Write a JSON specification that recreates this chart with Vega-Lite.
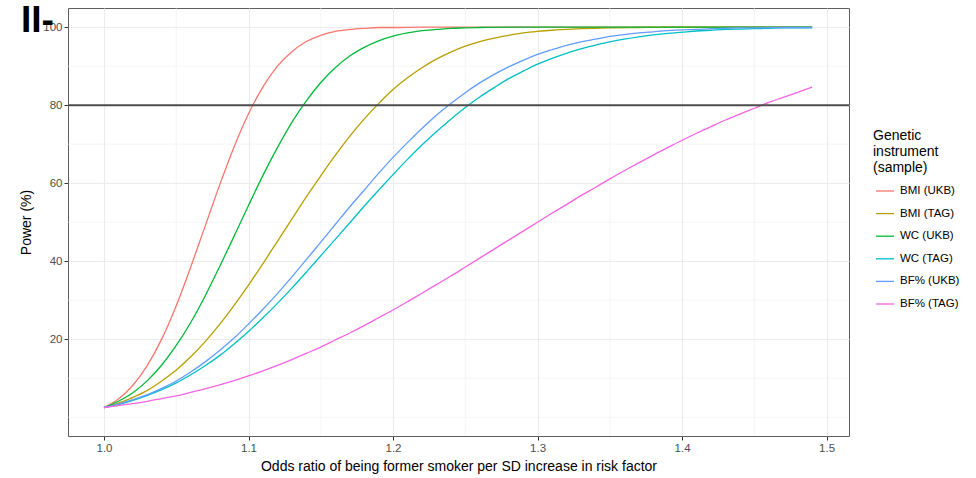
{
  "$schema": "https://vega.github.io/schema/vega-lite/v6.json",
  "width": 781,
  "height": 428,
  "autosize": {"type": "none"},
  "padding": {"left": 68, "top": 8, "right": 127, "bottom": 42},
  "background": "white",
  "title": {
    "text": "II-",
    "anchor": "start",
    "frame": "group",
    "orient": "top",
    "font": "Liberation Sans",
    "fontSize": 37,
    "fontWeight": "bold",
    "color": "black",
    "baseline": "top",
    "offset": 0,
    "dx": -47,
    "dy": 32
  },
  "datasets": {
    "power": [
      {"or": 1.00, "instrument": "BMI (UKB)", "power": 2.5},
      {"or": 1.01, "instrument": "BMI (UKB)", "power": 4.7},
      {"or": 1.02, "instrument": "BMI (UKB)", "power": 8.2},
      {"or": 1.03, "instrument": "BMI (UKB)", "power": 13.3},
      {"or": 1.04, "instrument": "BMI (UKB)", "power": 20.1},
      {"or": 1.05, "instrument": "BMI (UKB)", "power": 28.6},
      {"or": 1.06, "instrument": "BMI (UKB)", "power": 38.5},
      {"or": 1.07, "instrument": "BMI (UKB)", "power": 49.0},
      {"or": 1.08, "instrument": "BMI (UKB)", "power": 59.5},
      {"or": 1.09, "instrument": "BMI (UKB)", "power": 69.3},
      {"or": 1.10, "instrument": "BMI (UKB)", "power": 77.8},
      {"or": 1.11, "instrument": "BMI (UKB)", "power": 84.7},
      {"or": 1.12, "instrument": "BMI (UKB)", "power": 90.0},
      {"or": 1.13, "instrument": "BMI (UKB)", "power": 93.7},
      {"or": 1.14, "instrument": "BMI (UKB)", "power": 96.3},
      {"or": 1.15, "instrument": "BMI (UKB)", "power": 97.9},
      {"or": 1.16, "instrument": "BMI (UKB)", "power": 98.9},
      {"or": 1.17, "instrument": "BMI (UKB)", "power": 99.4},
      {"or": 1.18, "instrument": "BMI (UKB)", "power": 99.7},
      {"or": 1.19, "instrument": "BMI (UKB)", "power": 99.9},
      {"or": 1.20, "instrument": "BMI (UKB)", "power": 99.9},
      {"or": 1.22, "instrument": "BMI (UKB)", "power": 100},
      {"or": 1.25, "instrument": "BMI (UKB)", "power": 100},
      {"or": 1.30, "instrument": "BMI (UKB)", "power": 100},
      {"or": 1.35, "instrument": "BMI (UKB)", "power": 100},
      {"or": 1.40, "instrument": "BMI (UKB)", "power": 100},
      {"or": 1.45, "instrument": "BMI (UKB)", "power": 100},
      {"or": 1.49, "instrument": "BMI (UKB)", "power": 100},

      {"or": 1.00, "instrument": "BMI (TAG)", "power": 2.5},
      {"or": 1.01, "instrument": "BMI (TAG)", "power": 3.6},
      {"or": 1.02, "instrument": "BMI (TAG)", "power": 5.1},
      {"or": 1.03, "instrument": "BMI (TAG)", "power": 6.9},
      {"or": 1.04, "instrument": "BMI (TAG)", "power": 9.3},
      {"or": 1.05, "instrument": "BMI (TAG)", "power": 12.1},
      {"or": 1.06, "instrument": "BMI (TAG)", "power": 15.5},
      {"or": 1.07, "instrument": "BMI (TAG)", "power": 19.4},
      {"or": 1.08, "instrument": "BMI (TAG)", "power": 23.8},
      {"or": 1.09, "instrument": "BMI (TAG)", "power": 28.7},
      {"or": 1.10, "instrument": "BMI (TAG)", "power": 33.9},
      {"or": 1.11, "instrument": "BMI (TAG)", "power": 39.4},
      {"or": 1.12, "instrument": "BMI (TAG)", "power": 45.1},
      {"or": 1.13, "instrument": "BMI (TAG)", "power": 50.8},
      {"or": 1.14, "instrument": "BMI (TAG)", "power": 56.5},
      {"or": 1.15, "instrument": "BMI (TAG)", "power": 61.9},
      {"or": 1.16, "instrument": "BMI (TAG)", "power": 67.1},
      {"or": 1.17, "instrument": "BMI (TAG)", "power": 72.0},
      {"or": 1.18, "instrument": "BMI (TAG)", "power": 76.4},
      {"or": 1.19, "instrument": "BMI (TAG)", "power": 80.4},
      {"or": 1.20, "instrument": "BMI (TAG)", "power": 84.0},
      {"or": 1.21, "instrument": "BMI (TAG)", "power": 87.0},
      {"or": 1.22, "instrument": "BMI (TAG)", "power": 89.6},
      {"or": 1.23, "instrument": "BMI (TAG)", "power": 91.8},
      {"or": 1.24, "instrument": "BMI (TAG)", "power": 93.6},
      {"or": 1.25, "instrument": "BMI (TAG)", "power": 95.1},
      {"or": 1.26, "instrument": "BMI (TAG)", "power": 96.3},
      {"or": 1.27, "instrument": "BMI (TAG)", "power": 97.2},
      {"or": 1.28, "instrument": "BMI (TAG)", "power": 97.9},
      {"or": 1.29, "instrument": "BMI (TAG)", "power": 98.5},
      {"or": 1.30, "instrument": "BMI (TAG)", "power": 98.9},
      {"or": 1.31, "instrument": "BMI (TAG)", "power": 99.2},
      {"or": 1.32, "instrument": "BMI (TAG)", "power": 99.4},
      {"or": 1.33, "instrument": "BMI (TAG)", "power": 99.6},
      {"or": 1.34, "instrument": "BMI (TAG)", "power": 99.7},
      {"or": 1.35, "instrument": "BMI (TAG)", "power": 99.8},
      {"or": 1.37, "instrument": "BMI (TAG)", "power": 99.9},
      {"or": 1.40, "instrument": "BMI (TAG)", "power": 100},
      {"or": 1.45, "instrument": "BMI (TAG)", "power": 100},
      {"or": 1.49, "instrument": "BMI (TAG)", "power": 100},

      {"or": 1.00, "instrument": "WC (UKB)", "power": 2.5},
      {"or": 1.01, "instrument": "WC (UKB)", "power": 4.1},
      {"or": 1.02, "instrument": "WC (UKB)", "power": 6.3},
      {"or": 1.03, "instrument": "WC (UKB)", "power": 9.4},
      {"or": 1.04, "instrument": "WC (UKB)", "power": 13.4},
      {"or": 1.05, "instrument": "WC (UKB)", "power": 18.4},
      {"or": 1.06, "instrument": "WC (UKB)", "power": 24.3},
      {"or": 1.07, "instrument": "WC (UKB)", "power": 31.1},
      {"or": 1.08, "instrument": "WC (UKB)", "power": 38.6},
      {"or": 1.09, "instrument": "WC (UKB)", "power": 46.4},
      {"or": 1.10, "instrument": "WC (UKB)", "power": 54.3},
      {"or": 1.11, "instrument": "WC (UKB)", "power": 62.0},
      {"or": 1.12, "instrument": "WC (UKB)", "power": 69.1},
      {"or": 1.13, "instrument": "WC (UKB)", "power": 75.6},
      {"or": 1.14, "instrument": "WC (UKB)", "power": 81.1},
      {"or": 1.15, "instrument": "WC (UKB)", "power": 85.8},
      {"or": 1.16, "instrument": "WC (UKB)", "power": 89.6},
      {"or": 1.17, "instrument": "WC (UKB)", "power": 92.6},
      {"or": 1.18, "instrument": "WC (UKB)", "power": 94.8},
      {"or": 1.19, "instrument": "WC (UKB)", "power": 96.5},
      {"or": 1.20, "instrument": "WC (UKB)", "power": 97.7},
      {"or": 1.21, "instrument": "WC (UKB)", "power": 98.5},
      {"or": 1.22, "instrument": "WC (UKB)", "power": 99.1},
      {"or": 1.23, "instrument": "WC (UKB)", "power": 99.4},
      {"or": 1.24, "instrument": "WC (UKB)", "power": 99.7},
      {"or": 1.25, "instrument": "WC (UKB)", "power": 99.8},
      {"or": 1.26, "instrument": "WC (UKB)", "power": 99.9},
      {"or": 1.28, "instrument": "WC (UKB)", "power": 100},
      {"or": 1.30, "instrument": "WC (UKB)", "power": 100},
      {"or": 1.35, "instrument": "WC (UKB)", "power": 100},
      {"or": 1.40, "instrument": "WC (UKB)", "power": 100},
      {"or": 1.45, "instrument": "WC (UKB)", "power": 100},
      {"or": 1.49, "instrument": "WC (UKB)", "power": 100},

      {"or": 1.00, "instrument": "WC (TAG)", "power": 2.5},
      {"or": 1.01, "instrument": "WC (TAG)", "power": 3.3},
      {"or": 1.02, "instrument": "WC (TAG)", "power": 4.3},
      {"or": 1.03, "instrument": "WC (TAG)", "power": 5.6},
      {"or": 1.04, "instrument": "WC (TAG)", "power": 7.1},
      {"or": 1.05, "instrument": "WC (TAG)", "power": 8.8},
      {"or": 1.06, "instrument": "WC (TAG)", "power": 10.9},
      {"or": 1.07, "instrument": "WC (TAG)", "power": 13.2},
      {"or": 1.08, "instrument": "WC (TAG)", "power": 15.8},
      {"or": 1.09, "instrument": "WC (TAG)", "power": 18.8},
      {"or": 1.10, "instrument": "WC (TAG)", "power": 22.0},
      {"or": 1.11, "instrument": "WC (TAG)", "power": 25.5},
      {"or": 1.12, "instrument": "WC (TAG)", "power": 29.2},
      {"or": 1.13, "instrument": "WC (TAG)", "power": 33.1},
      {"or": 1.14, "instrument": "WC (TAG)", "power": 37.2},
      {"or": 1.15, "instrument": "WC (TAG)", "power": 41.4},
      {"or": 1.16, "instrument": "WC (TAG)", "power": 45.6},
      {"or": 1.17, "instrument": "WC (TAG)", "power": 49.8},
      {"or": 1.18, "instrument": "WC (TAG)", "power": 54.1},
      {"or": 1.19, "instrument": "WC (TAG)", "power": 58.2},
      {"or": 1.20, "instrument": "WC (TAG)", "power": 62.2},
      {"or": 1.21, "instrument": "WC (TAG)", "power": 66.1},
      {"or": 1.22, "instrument": "WC (TAG)", "power": 69.8},
      {"or": 1.23, "instrument": "WC (TAG)", "power": 73.2},
      {"or": 1.24, "instrument": "WC (TAG)", "power": 76.4},
      {"or": 1.25, "instrument": "WC (TAG)", "power": 79.4},
      {"or": 1.26, "instrument": "WC (TAG)", "power": 82.1},
      {"or": 1.27, "instrument": "WC (TAG)", "power": 84.5},
      {"or": 1.28, "instrument": "WC (TAG)", "power": 86.8},
      {"or": 1.29, "instrument": "WC (TAG)", "power": 88.7},
      {"or": 1.30, "instrument": "WC (TAG)", "power": 90.5},
      {"or": 1.31, "instrument": "WC (TAG)", "power": 92.0},
      {"or": 1.32, "instrument": "WC (TAG)", "power": 93.3},
      {"or": 1.33, "instrument": "WC (TAG)", "power": 94.4},
      {"or": 1.34, "instrument": "WC (TAG)", "power": 95.4},
      {"or": 1.35, "instrument": "WC (TAG)", "power": 96.2},
      {"or": 1.36, "instrument": "WC (TAG)", "power": 96.9},
      {"or": 1.37, "instrument": "WC (TAG)", "power": 97.5},
      {"or": 1.38, "instrument": "WC (TAG)", "power": 98.0},
      {"or": 1.39, "instrument": "WC (TAG)", "power": 98.4},
      {"or": 1.40, "instrument": "WC (TAG)", "power": 98.7},
      {"or": 1.41, "instrument": "WC (TAG)", "power": 99.0},
      {"or": 1.42, "instrument": "WC (TAG)", "power": 99.2},
      {"or": 1.43, "instrument": "WC (TAG)", "power": 99.4},
      {"or": 1.44, "instrument": "WC (TAG)", "power": 99.5},
      {"or": 1.45, "instrument": "WC (TAG)", "power": 99.6},
      {"or": 1.46, "instrument": "WC (TAG)", "power": 99.7},
      {"or": 1.47, "instrument": "WC (TAG)", "power": 99.8},
      {"or": 1.48, "instrument": "WC (TAG)", "power": 99.8},
      {"or": 1.49, "instrument": "WC (TAG)", "power": 99.9},

      {"or": 1.00, "instrument": "BF% (UKB)", "power": 2.5},
      {"or": 1.01, "instrument": "BF% (UKB)", "power": 3.4},
      {"or": 1.02, "instrument": "BF% (UKB)", "power": 4.5},
      {"or": 1.03, "instrument": "BF% (UKB)", "power": 5.8},
      {"or": 1.04, "instrument": "BF% (UKB)", "power": 7.4},
      {"or": 1.05, "instrument": "BF% (UKB)", "power": 9.3},
      {"or": 1.06, "instrument": "BF% (UKB)", "power": 11.6},
      {"or": 1.07, "instrument": "BF% (UKB)", "power": 14.2},
      {"or": 1.08, "instrument": "BF% (UKB)", "power": 17.1},
      {"or": 1.09, "instrument": "BF% (UKB)", "power": 20.3},
      {"or": 1.10, "instrument": "BF% (UKB)", "power": 23.9},
      {"or": 1.11, "instrument": "BF% (UKB)", "power": 27.7},
      {"or": 1.12, "instrument": "BF% (UKB)", "power": 31.7},
      {"or": 1.13, "instrument": "BF% (UKB)", "power": 36.0},
      {"or": 1.14, "instrument": "BF% (UKB)", "power": 40.4},
      {"or": 1.15, "instrument": "BF% (UKB)", "power": 44.9},
      {"or": 1.16, "instrument": "BF% (UKB)", "power": 49.4},
      {"or": 1.17, "instrument": "BF% (UKB)", "power": 53.9},
      {"or": 1.18, "instrument": "BF% (UKB)", "power": 58.2},
      {"or": 1.19, "instrument": "BF% (UKB)", "power": 62.5},
      {"or": 1.20, "instrument": "BF% (UKB)", "power": 66.6},
      {"or": 1.21, "instrument": "BF% (UKB)", "power": 70.4},
      {"or": 1.22, "instrument": "BF% (UKB)", "power": 74.0},
      {"or": 1.23, "instrument": "BF% (UKB)", "power": 77.4},
      {"or": 1.24, "instrument": "BF% (UKB)", "power": 80.4},
      {"or": 1.25, "instrument": "BF% (UKB)", "power": 83.2},
      {"or": 1.26, "instrument": "BF% (UKB)", "power": 85.7},
      {"or": 1.27, "instrument": "BF% (UKB)", "power": 87.9},
      {"or": 1.28, "instrument": "BF% (UKB)", "power": 89.8},
      {"or": 1.29, "instrument": "BF% (UKB)", "power": 91.5},
      {"or": 1.30, "instrument": "BF% (UKB)", "power": 93.0},
      {"or": 1.31, "instrument": "BF% (UKB)", "power": 94.2},
      {"or": 1.32, "instrument": "BF% (UKB)", "power": 95.3},
      {"or": 1.33, "instrument": "BF% (UKB)", "power": 96.2},
      {"or": 1.34, "instrument": "BF% (UKB)", "power": 96.9},
      {"or": 1.35, "instrument": "BF% (UKB)", "power": 97.6},
      {"or": 1.36, "instrument": "BF% (UKB)", "power": 98.1},
      {"or": 1.37, "instrument": "BF% (UKB)", "power": 98.5},
      {"or": 1.38, "instrument": "BF% (UKB)", "power": 98.8},
      {"or": 1.39, "instrument": "BF% (UKB)", "power": 99.1},
      {"or": 1.40, "instrument": "BF% (UKB)", "power": 99.3},
      {"or": 1.41, "instrument": "BF% (UKB)", "power": 99.4},
      {"or": 1.42, "instrument": "BF% (UKB)", "power": 99.6},
      {"or": 1.43, "instrument": "BF% (UKB)", "power": 99.7},
      {"or": 1.44, "instrument": "BF% (UKB)", "power": 99.8},
      {"or": 1.45, "instrument": "BF% (UKB)", "power": 99.8},
      {"or": 1.47, "instrument": "BF% (UKB)", "power": 99.9},
      {"or": 1.49, "instrument": "BF% (UKB)", "power": 99.9},

      {"or": 1.00, "instrument": "BF% (TAG)", "power": 2.5},
      {"or": 1.01, "instrument": "BF% (TAG)", "power": 3.0},
      {"or": 1.02, "instrument": "BF% (TAG)", "power": 3.5},
      {"or": 1.03, "instrument": "BF% (TAG)", "power": 4.1},
      {"or": 1.04, "instrument": "BF% (TAG)", "power": 4.8},
      {"or": 1.05, "instrument": "BF% (TAG)", "power": 5.5},
      {"or": 1.06, "instrument": "BF% (TAG)", "power": 6.4},
      {"or": 1.07, "instrument": "BF% (TAG)", "power": 7.3},
      {"or": 1.08, "instrument": "BF% (TAG)", "power": 8.3},
      {"or": 1.09, "instrument": "BF% (TAG)", "power": 9.4},
      {"or": 1.10, "instrument": "BF% (TAG)", "power": 10.6},
      {"or": 1.11, "instrument": "BF% (TAG)", "power": 11.9},
      {"or": 1.12, "instrument": "BF% (TAG)", "power": 13.3},
      {"or": 1.13, "instrument": "BF% (TAG)", "power": 14.8},
      {"or": 1.14, "instrument": "BF% (TAG)", "power": 16.4},
      {"or": 1.15, "instrument": "BF% (TAG)", "power": 18.0},
      {"or": 1.16, "instrument": "BF% (TAG)", "power": 19.8},
      {"or": 1.17, "instrument": "BF% (TAG)", "power": 21.6},
      {"or": 1.18, "instrument": "BF% (TAG)", "power": 23.5},
      {"or": 1.19, "instrument": "BF% (TAG)", "power": 25.5},
      {"or": 1.20, "instrument": "BF% (TAG)", "power": 27.5},
      {"or": 1.21, "instrument": "BF% (TAG)", "power": 29.6},
      {"or": 1.22, "instrument": "BF% (TAG)", "power": 31.8},
      {"or": 1.23, "instrument": "BF% (TAG)", "power": 34.0},
      {"or": 1.24, "instrument": "BF% (TAG)", "power": 36.2},
      {"or": 1.25, "instrument": "BF% (TAG)", "power": 38.5},
      {"or": 1.26, "instrument": "BF% (TAG)", "power": 40.8},
      {"or": 1.27, "instrument": "BF% (TAG)", "power": 43.1},
      {"or": 1.28, "instrument": "BF% (TAG)", "power": 45.4},
      {"or": 1.29, "instrument": "BF% (TAG)", "power": 47.7},
      {"or": 1.30, "instrument": "BF% (TAG)", "power": 50.0},
      {"or": 1.31, "instrument": "BF% (TAG)", "power": 52.3},
      {"or": 1.32, "instrument": "BF% (TAG)", "power": 54.5},
      {"or": 1.33, "instrument": "BF% (TAG)", "power": 56.8},
      {"or": 1.34, "instrument": "BF% (TAG)", "power": 58.9},
      {"or": 1.35, "instrument": "BF% (TAG)", "power": 61.1},
      {"or": 1.36, "instrument": "BF% (TAG)", "power": 63.2},
      {"or": 1.37, "instrument": "BF% (TAG)", "power": 65.2},
      {"or": 1.38, "instrument": "BF% (TAG)", "power": 67.2},
      {"or": 1.39, "instrument": "BF% (TAG)", "power": 69.1},
      {"or": 1.40, "instrument": "BF% (TAG)", "power": 71.0},
      {"or": 1.41, "instrument": "BF% (TAG)", "power": 72.8},
      {"or": 1.42, "instrument": "BF% (TAG)", "power": 74.5},
      {"or": 1.43, "instrument": "BF% (TAG)", "power": 76.2},
      {"or": 1.44, "instrument": "BF% (TAG)", "power": 77.7},
      {"or": 1.45, "instrument": "BF% (TAG)", "power": 79.2},
      {"or": 1.46, "instrument": "BF% (TAG)", "power": 80.7},
      {"or": 1.47, "instrument": "BF% (TAG)", "power": 82.0},
      {"or": 1.48, "instrument": "BF% (TAG)", "power": 83.3},
      {"or": 1.49, "instrument": "BF% (TAG)", "power": 84.6}
    ],
    "minorX": [
      {"or": 1.05}, {"or": 1.15}, {"or": 1.25}, {"or": 1.35}, {"or": 1.45}
    ],
    "minorY": [
      {"power": 0}, {"power": 10}, {"power": 30}, {"power": 50}, {"power": 70}, {"power": 90}
    ],
    "threshold": [
      {"power": 80}
    ]
  },
  "layer": [
    {
      "data": {"name": "minorX"},
      "mark": {"type": "rule", "color": "#EFEFEF", "strokeWidth": 0.6},
      "encoding": {
        "x": {"field": "or", "type": "quantitative", "scale": {"domain": [0.9751, 1.5155], "nice": false, "zero": false}}
      }
    },
    {
      "data": {"name": "minorY"},
      "mark": {"type": "rule", "color": "#EFEFEF", "strokeWidth": 0.6},
      "encoding": {
        "y": {"field": "power", "type": "quantitative", "scale": {"domain": [-4.8, 104.9], "nice": false, "zero": false}}
      }
    },
    {
      "data": {"name": "power"},
      "mark": {"type": "line", "strokeWidth": 1.3, "interpolate": "monotone"},
      "encoding": {
        "x": {
          "field": "or",
          "type": "quantitative",
          "scale": {"domain": [0.9751, 1.5155], "nice": false, "zero": false},
          "axis": {
            "values": [1.0, 1.1, 1.2, 1.3, 1.4, 1.5],
            "format": ".1f",
            "title": "Odds ratio of being former smoker per SD increase in risk factor",
            "labelPadding": 2,
            "titlePadding": 6
          }
        },
        "y": {
          "field": "power",
          "type": "quantitative",
          "scale": {"domain": [-4.8, 104.9], "nice": false, "zero": false},
          "axis": {
            "values": [20, 40, 60, 80, 100],
            "title": "Power (%)",
            "labelPadding": 2,
            "titlePadding": 9
          }
        },
        "color": {
          "field": "instrument",
          "type": "nominal",
          "scale": {
            "domain": ["BMI (UKB)", "BMI (TAG)", "WC (UKB)", "WC (TAG)", "BF% (UKB)", "BF% (TAG)"],
            "range": ["#F8766D", "#B79F00", "#00BA38", "#00BFC4", "#619CFF", "#F564E3"]
          },
          "legend": {
            "title": ["Genetic", "\u00a0instrument", "\u00a0(sample)"],
            "orient": "none",
            "legendX": 805,
            "legendY": 121
          }
        },
        "order": {"field": "or", "type": "quantitative"}
      }
    },
    {
      "data": {"name": "threshold"},
      "mark": {"type": "rule", "color": "#4D4D4D", "strokeWidth": 2},
      "encoding": {
        "y": {"field": "power", "type": "quantitative"}
      }
    }
  ],
  "config": {
    "font": "Liberation Sans",
    "view": {"stroke": "#5E5E5E", "strokeWidth": 1},
    "axis": {
      "domain": false,
      "grid": true,
      "gridColor": "#EBEBEB",
      "gridWidth": 1.1,
      "tickColor": "#333333",
      "tickSize": 4,
      "tickWidth": 1,
      "labelColor": "#4D4D4D",
      "labelFont": "Liberation Sans",
      "labelFontSize": 11.5,
      "titleFont": "Liberation Sans",
      "titleFontSize": 14,
      "titleFontWeight": "normal",
      "titleColor": "black"
    },
    "legend": {
      "padding": 0,
      "titleFont": "Liberation Sans",
      "titleFontSize": 14,
      "titleFontWeight": "normal",
      "titleColor": "black",
      "titleLineHeight": 16,
      "titlePadding": 6,
      "labelFont": "Liberation Sans",
      "labelFontSize": 11.5,
      "labelColor": "black",
      "labelOffset": 5,
      "symbolType": "stroke",
      "symbolSize": 324,
      "symbolStrokeWidth": 1.3,
      "symbolOffset": 2,
      "rowPadding": 6.6
    }
  }
}
